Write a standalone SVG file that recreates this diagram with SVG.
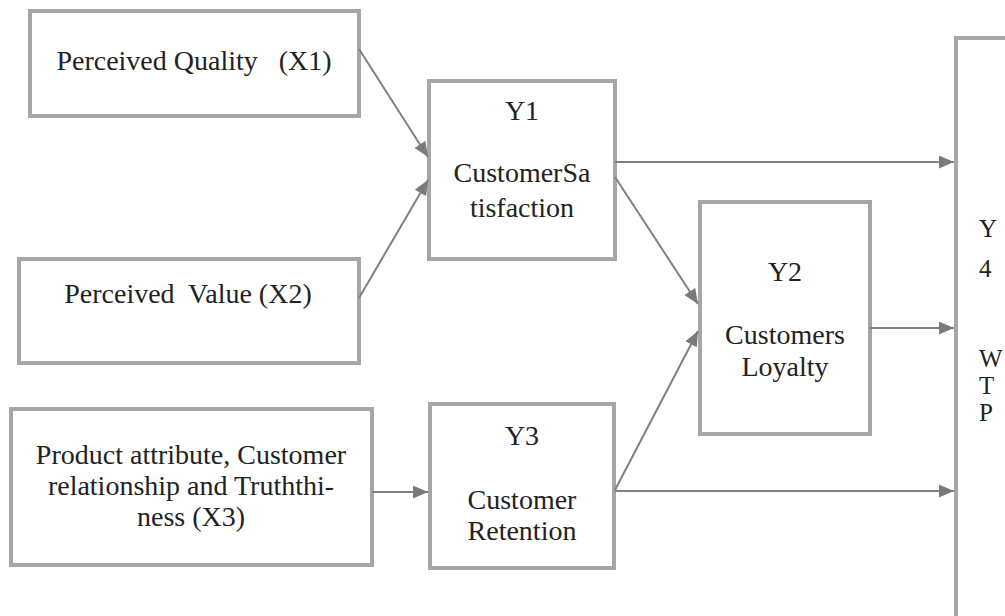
<svg xmlns="http://www.w3.org/2000/svg" width="1005" height="616" viewBox="0 0 1005 616">
  <style>
    .box { fill: #ffffff; stroke: #a6a6a6; stroke-width: 4; }
    .lbl { font-family: 'Liberation Serif', 'DejaVu Serif', 'Times New Roman', serif; font-size: 28px; fill: #222222; }
    .side { font-size: 25px; }
    .mid { text-anchor: middle; }
    .edge { stroke: #808080; stroke-width: 2; fill: none; marker-end: url(#arrow); }
  </style>
  <defs>
    <marker id="arrow" markerUnits="userSpaceOnUse" markerWidth="15" markerHeight="13" refX="15" refY="6.5" orient="auto">
      <path d="M0,0 L15,6.5 L0,13 z" fill="#7a7a7a"/>
    </marker>
  </defs>

  <rect x="0" y="0" width="1005" height="616" fill="#ffffff"/>

  <!-- Y4 WTP: tall box running off the right and bottom edges -->
  <g id="node-y4">
    <rect class="box" x="956" y="38" width="100" height="620"/>
    <text class="lbl side" x="979" y="237">Y</text>
    <text class="lbl side" x="979" y="277">4</text>
    <text class="lbl side" x="979" y="367">W</text>
    <text class="lbl side" x="979" y="394">T</text>
    <text class="lbl side" x="979" y="421">P</text>
  </g>

  <g id="node-x1">
    <rect class="box" x="30" y="11" width="329" height="105"/>
    <text class="lbl mid" x="194" y="70" xml:space="preserve">Perceived Quality   (X1)</text>
  </g>

  <g id="node-x2">
    <rect class="box" x="19" y="259" width="340" height="104"/>
    <text class="lbl mid" x="188" y="303" xml:space="preserve">Perceived  Value (X2)</text>
  </g>

  <g id="node-x3">
    <rect class="box" x="11" y="409" width="361" height="156"/>
    <text class="lbl mid" x="191" y="464">Product attribute, Customer</text>
    <text class="lbl mid" x="191" y="495">relationship and Truththi-</text>
    <text class="lbl mid" x="191" y="526">ness (X3)</text>
  </g>

  <g id="node-y1">
    <rect class="box" x="429" y="81" width="186" height="178"/>
    <text class="lbl mid" x="522" y="120">Y1</text>
    <text class="lbl mid" x="522" y="182">CustomerSa</text>
    <text class="lbl mid" x="522" y="217">tisfaction</text>
  </g>

  <g id="node-y3">
    <rect class="box" x="430" y="404" width="184" height="164"/>
    <text class="lbl mid" x="522" y="445">Y3</text>
    <text class="lbl mid" x="522" y="509">Customer</text>
    <text class="lbl mid" x="522" y="540">Retention</text>
  </g>

  <g id="node-y2">
    <rect class="box" x="700" y="202" width="170" height="232"/>
    <text class="lbl mid" x="785" y="281">Y2</text>
    <text class="lbl mid" x="785" y="344">Customers</text>
    <text class="lbl mid" x="785" y="376">Loyalty</text>
  </g>

  <!-- connectors -->
  <g id="connectors">
    <line class="edge" x1="359" y1="49" x2="428" y2="157"/>
    <line class="edge" x1="359" y1="298" x2="428" y2="180"/>
    <line class="edge" x1="372" y1="492" x2="428" y2="492"/>
    <line class="edge" x1="615" y1="162" x2="954" y2="162"/>
    <line class="edge" x1="615" y1="177" x2="698" y2="304"/>
    <line class="edge" x1="615" y1="490" x2="698" y2="331"/>
    <line class="edge" x1="870" y1="328" x2="954" y2="328"/>
    <line class="edge" x1="615" y1="491" x2="954" y2="491"/>
  </g>
</svg>
